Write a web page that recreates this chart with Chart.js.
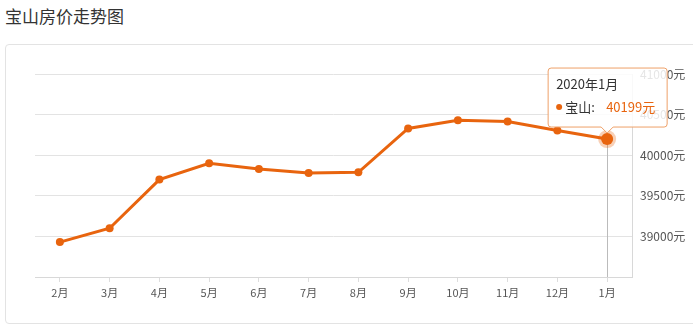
<!DOCTYPE html>
<html lang="zh">
<head>
    <meta charset="UTF-8">
    <title>宝山房价走势图</title>
    <script src="https://cdn.jsdelivr.net/npm/chart.js@4"></script>
    <style>
        body { margin: 0; width: 693px; height: 330px; overflow: hidden; background: #fff; position: relative;
               font-family: "Noto Sans CJK SC", "Noto Sans", sans-serif; }
        #title { position: absolute; left: 5px; top: 3px; font-size: 17px; color: #333; line-height: 26px; }
        #panel { position: absolute; left: 5px; top: 44px; width: 700px; height: 280px;
                 border: 1px solid #e3e3e3; border-radius: 4px; box-sizing: border-box; }
        #wrap { position: absolute; left: 0; top: 0; width: 693px; height: 330px; }
    </style>
</head>
<body>
    <div id="title">宝山房价走势图</div>
    <div id="panel"></div>
    <div id="wrap"><canvas id="priceChart"></canvas></div>

    <script>
        const months = ['2月', '3月', '4月', '5月', '6月', '7月', '8月', '9月', '10月', '11月', '12月', '1月'];
        const prices = [38930, 39100, 39700, 39900, 39830, 39780, 39790, 40330, 40430, 40415, 40305, 40199];
        const seriesName = '宝山';
        const tipTitle = '2020年1月';
        const yTicks = [39000, 39500, 40000, 40500, 41000];

        const orange = '#e8640e';

        // tooltip on the last point, drawn by hand so the value can be orange
        const fixedTip = {
            id: 'fixedTip',
            afterDraw(chart) {
                const ctx = chart.ctx;
                const meta = chart.getDatasetMeta(0);
                const idx = prices.length - 1;
                const pt = meta.data[idx];
                const px = pt.x, py = pt.y;
                const area = chart.chartArea;

                ctx.save();
                // crosshair
                ctx.strokeStyle = '#bbb';
                ctx.lineWidth = 1;
                ctx.beginPath();
                ctx.moveTo(Math.round(px) + 0.5, py);
                ctx.lineTo(Math.round(px) + 0.5, area.bottom);
                ctx.stroke();

                // halo + active point
                ctx.fillStyle = 'rgba(232,100,14,0.3)';
                ctx.beginPath(); ctx.arc(px, py, 9, 0, Math.PI * 2); ctx.fill();
                ctx.fillStyle = orange;
                ctx.beginPath(); ctx.arc(px, py, 6, 0, Math.PI * 2); ctx.fill();

                // box
                const l = px - 59, r = px + 60, t = py - 71, b = py - 12;
                ctx.beginPath();
                ctx.moveTo(l + 3, t);
                ctx.lineTo(r - 3, t); ctx.quadraticCurveTo(r, t, r, t + 3);
                ctx.lineTo(r, b - 3); ctx.quadraticCurveTo(r, b, r - 3, b);
                ctx.lineTo(px + 6, b); ctx.lineTo(px, b + 6); ctx.lineTo(px - 6, b);
                ctx.lineTo(l + 3, b); ctx.quadraticCurveTo(l, b, l, b - 3);
                ctx.lineTo(l, t + 3); ctx.quadraticCurveTo(l, t, l + 3, t);
                ctx.closePath();
                ctx.fillStyle = 'rgba(255,255,255,0.85)';
                ctx.fill();
                ctx.strokeStyle = '#eea068';
                ctx.stroke();

                ctx.font = '13px "Noto Sans CJK SC", sans-serif';
                ctx.textBaseline = 'middle';
                ctx.textAlign = 'left';
                ctx.fillStyle = '#333';
                ctx.fillText(tipTitle, l + 8, t + 16);
                ctx.fillStyle = orange;
                ctx.beginPath(); ctx.arc(l + 11, t + 39, 3, 0, Math.PI * 2); ctx.fill();
                ctx.fillStyle = '#333';
                ctx.fillText(seriesName + ':', l + 17, t + 39);
                ctx.fillStyle = orange;
                ctx.fillText(prices[idx] + '元', l + 58, t + 39);
                ctx.restore();
            }
        };

        const ctx = document.getElementById('priceChart').getContext('2d');
        const priceChart = new Chart(ctx, {
            type: 'line',
            data: {
                labels: months,
                datasets: [{
                    label: seriesName,
                    data: prices,
                    borderColor: orange,
                    backgroundColor: orange,
                    borderWidth: 3,
                    pointRadius: 4,
                    pointHoverRadius: 4,
                    pointBorderWidth: 0,
                    tension: 0
                }]
            },
            options: {
                responsive: true,
                maintainAspectRatio: false,
                animation: false,
                events: [],
                layout: { padding: { left: 35, top: 74, right: 0, bottom: 0 } },
                plugins: {
                    legend: { display: false },
                    tooltip: { enabled: false }
                },
                scales: {
                    x: {
                        offset: true,
                        grid: { offset: false, drawOnChartArea: false, drawTicks: true, tickLength: 5, color: '#ddd' },
                        border: { color: '#d8d8d8', width: 1 },
                        ticks: { color: '#555', font: { size: 11, family: '"Noto Sans CJK SC", sans-serif' }, padding: 4, maxRotation: 0 },
                        afterFit: s => { s.height = 53; }
                    },
                    y: {
                        position: 'right',
                        min: 38500,
                        max: 41000,
                        afterBuildTicks: s => { s.ticks = [38500].concat(yTicks).map(v => ({ value: v })); },
                        grid: { color: '#e3e3e3', drawTicks: false },
                        border: { display: true, color: '#d8d8d8' },
                        ticks: {
                            color: '#555',
                            padding: 8,
                            font: { size: 12, family: '"Noto Sans CJK SC", sans-serif' },
                            callback: v => v === 38500 ? '' : v + '元'
                        },
                        afterFit: s => { s.width = 61; }
                    }
                }
            },
            plugins: [fixedTip]
        });
    </script>
</body>
</html>
